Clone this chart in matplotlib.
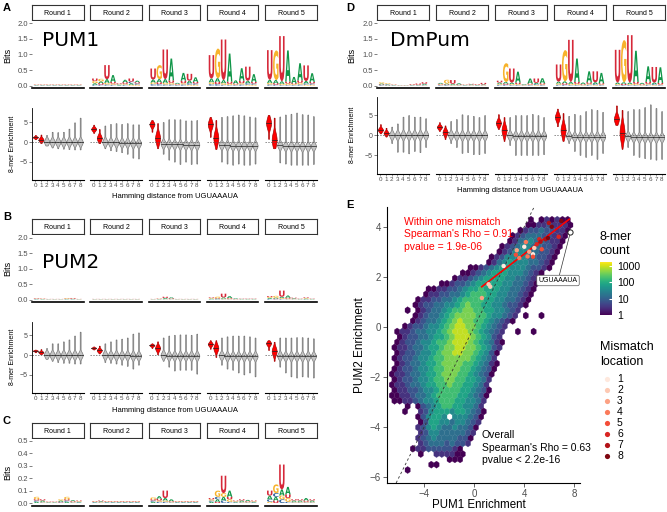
import numpy as np
import matplotlib
matplotlib.use('Agg')
import matplotlib.pyplot as plt
from matplotlib.textpath import TextPath
from matplotlib.patches import PathPatch
from matplotlib.font_manager import FontProperties
from matplotlib.transforms import Affine2D
from matplotlib.colors import LogNorm

plt.rcParams['font.family'] = ['Liberation Sans', 'DejaVu Sans']

W, H = 667, 512
ROUNDS = ['Round 1', 'Round 2', 'Round 3', 'Round 4', 'Round 5']
DIST = list(range(9))
BASES = 'ACGU'
BASE_COL = {'A': '#109648', 'C': '#255C99', 'G': '#F7B32B', 'U': '#D62839'}

# sequence logo heights in bits: per round, 8 positions of (A, C, G, U)
PUM1_LOGO = [
    [(.01, .01, .01, .01), (.01, .01, .01, .01), (.01, .01, .01, .01), (.01, .01, .01, .01),
     (.01, .01, .01, .01), (.01, .01, .01, .01), (.01, .01, .01, .01), (.01, .01, .01, .01)],
    [(.05, .03, .07, .08), (.06, .03, .08, .05), (.12, .04, .05, .45), (.22, .03, .04, .05),
     (.02, .02, .02, .02), (.08, .03, .03, .05), (.05, .05, .03, .10), (.05, .04, .03, .04)],
    [(.10, .05, .05, .35), (.10, .05, .45, .06), (.12, .04, .05, .95), (.70, .04, .05, .08),
     (.03, .02, .02, .02), (.25, .04, .04, .08), (.08, .05, .03, .22), (.15, .04, .03, .05)],
    [(.12, .05, .06, .75), (.12, .05, .95, .07), (.10, .03, .05, 1.30), (.90, .02, .04, .07),
     (.10, .02, .02, .03), (.40, .04, .04, .08), (.08, .05, .03, .45), (.25, .04, .03, .05)],
    [(.10, .04, .05, .95), (.10, .03, .95, .05), (.08, .02, .04, 1.45), (1.00, .02, .05, .06),
     (.20, .02, .03, .03), (.55, .04, .05, .08), (.08, .04, .03, .50), (.28, .04, .03, .05)],
]
PUM2_LOGO = [
    [(.01, .01, .01, .015), (.01, .005, .01, .01), (.005, .005, .005, .005), (.005, .005, .005, .005),
     (.005, .005, .005, .005), (.01, .01, .02, .01), (.01, .01, .01, .02), (.005, .005, .005, .005)],
    [(.005, .005, .005, .005), (.005, .005, .005, .005), (.005, .005, .005, .005), (.005, .005, .005, .005),
     (.005, .005, .005, .005), (.005, .005, .005, .005), (.005, .005, .005, .005), (.005, .005, .005, .005)],
    [(.005, .005, .005, .005), (.01, .005, .01, .01), (.03, .01, .01, .04), (.03, .01, .01, .02),
     (.005, .005, .005, .005), (.005, .005, .005, .005), (.005, .005, .005, .005), (.005, .005, .005, .005)],
    [(.02, .01, .02, .02), (.02, .01, .04, .02), (.04, .01, .02, .12), (.06, .01, .02, .02),
     (.02, .005, .005, .01), (.01, .005, .005, .01), (.01, .005, .005, .01), (.01, .005, .005, .01)],
    [(.03, .02, .03, .03), (.03, .01, .06, .02), (.04, .02, .03, .20), (.07, .01, .02, .03),
     (.02, .01, .01, .02), (.01, .005, .005, .01), (.02, .01, .02, .02), (.01, .005, .005, .01)],
]
CTRL_LOGO = [
    [(.01, .01, .02, .01), (.01, .005, .005, .01), (.003, .003, .003, .003), (.003, .003, .003, .003),
     (.01, .005, .01, .005), (.01, .01, .02, .01), (.008, .005, .005, .005), (.005, .005, .005, .005)],
    [(.004, .004, .004, .004), (.006, .004, .004, .006), (.004, .004, .004, .004), (.004, .004, .004, .004),
     (.004, .004, .004, .004), (.004, .004, .004, .004), (.004, .004, .004, .004), (.004, .004, .004, .004)],
    [(.01, .01, .015, .01), (.02, .01, .01, .015), (.02, .01, .01, .06), (.015, .005, .005, .005),
     (.004, .004, .004, .004), (.004, .004, .004, .004), (.004, .004, .004, .004), (.004, .004, .004, .004)],
    [(.01, .01, .01, .01), (.02, .02, .05, .01), (.03, .02, .03, .14), (.05, .01, .02, .02),
     (.005, .005, .005, .005), (.01, .005, .005, .01), (.01, .005, .005, .005), (.005, .005, .005, .005)],
    [(.03, .02, .01, .04), (.03, .03, .07, .02), (.05, .03, .03, .20), (.06, .01, .03, .03),
     (.01, .005, .005, .01), (.01, .005, .005, .01), (.02, .005, .005, .01), (.01, .005, .005, .01)],
]
DM_LOGO = [
    [(.03, .02, .04, .02), (.02, .02, .03, .01), (.01, .01, .01, .01), (.005, .005, .005, .005),
     (.005, .005, .005, .005), (.01, .01, .01, .02), (.01, .01, .01, .04), (.03, .02, .01, .05)],
    [(.03, .02, .02, .02), (.03, .02, .12, .02), (.03, .01, .02, .12), (.04, .01, .01, .02),
     (.01, .01, .01, .01), (.02, .01, .01, .02), (.01, .01, .01, .02), (.02, .01, .01, .05)],
    [(.04, .03, .03, .06), (.05, .03, .60, .04), (.05, .02, .03, .45), (.35, .02, .03, .05),
     (.02, .01, .01, .01), (.16, .02, .02, .03), (.04, .03, .02, .14), (.16, .02, .02, .04)],
    [(.06, .03, .04, .55), (.06, .03, 1.0, .05), (.06, .02, .04, 1.35), (.75, .02, .04, .06),
     (.05, .01, .02, .02), (.35, .03, .03, .05), (.06, .03, .02, .35), (.33, .02, .02, .04)],
    [(.05, .02, .03, 1.05), (.05, .02, 1.35, .04), (.05, .02, .03, 1.52), (1.0, .02, .04, .06),
     (.04, .01, .02, .02), (.50, .03, .03, .06), (.05, .03, .02, .50), (.50, .02, .02, .05)],
]

# 8-mer enrichment violins: low end, median, high end per round and hamming distance
PUM1_LO = [[0.7, -0.3, -0.9, -1.4, -1.6, -1.7, -1.8, -1.9, -1.9],
           [2.3, -0.3, -1.6, -2.1, -2.3, -2.6, -3.0, -4.0, -4.2],
           [2.6, -1.6, -3.0, -4.5, -5.0, -5.6, -5.0, -5.6, -5.5],
           [1.3, -1.8, -5.0, -5.5, -5.8, -5.5, -5.8, -5.8, -5.5],
           [0.8, -1.6, -5.2, -5.5, -5.8, -5.8, -5.8, -5.8, -5.6]]
PUM1_MED = [[1.2, 0.6, 0.1, 0.0, 0.0, 0.0, 0.0, 0.0, 0.0],
            [3.3, 1.0, 0.0, -0.1, -0.1, -0.2, -0.2, -0.3, -0.3],
            [4.5, 1.0, -0.4, -0.5, -0.6, -0.6, -0.7, -0.7, -0.7],
            [4.5, 1.0, -0.7, -0.8, -0.9, -0.9, -0.9, -0.9, -0.9],
            [4.8, 0.6, -0.8, -1.0, -1.0, -1.0, -1.1, -1.1, -1.0]]
PUM1_HI = [[1.8, 1.9, 1.8, 2.6, 2.5, 2.6, 3.4, 5.0, 6.2],
           [4.4, 3.3, 4.2, 4.6, 4.8, 4.6, 4.8, 4.5, 4.5],
           [5.6, 4.8, 5.1, 5.8, 5.8, 5.8, 5.5, 5.5, 5.6],
           [6.4, 5.6, 6.4, 6.6, 6.8, 7.0, 6.8, 6.5, 6.3],
           [6.9, 6.2, 6.5, 7.0, 7.2, 7.5, 7.1, 7.0, 6.6]]

PUM2_LO = [[0.7, 0.2, -1.0, -1.5, -1.8, -2.0, -2.0, -2.2, -2.2],
           [1.4, 0.4, -1.8, -2.0, -2.2, -2.5, -2.8, -3.5, -2.5],
           [1.8, 0.2, -1.5, -3.0, -4.0, -3.8, -3.8, -3.8, -4.8],
           [1.6, -0.5, -2.5, -3.5, -3.8, -4.5, -5.0, -4.5, -5.5],
           [1.3, -1.5, -3.0, -4.5, -5.5, -5.8, -5.5, -5.6, -5.8]]
PUM2_MED = [[1.1, 0.7, 0.1, 0.0, 0.0, 0.0, 0.0, 0.0, 0.0],
            [1.8, 1.2, 0.0, -0.1, -0.1, -0.1, -0.1, -0.2, -0.2],
            [2.5, 1.8, 0.0, -0.2, -0.2, -0.2, -0.2, -0.2, -0.2],
            [2.8, 1.8, -0.1, -0.3, -0.3, -0.3, -0.3, -0.3, -0.3],
            [3.0, 1.0, -0.2, -0.3, -0.3, -0.3, -0.3, -0.3, -0.3]]
PUM2_HI = [[1.4, 1.5, 1.8, 3.0, 3.0, 3.5, 4.0, 5.0, 6.0],
           [2.2, 2.4, 3.0, 3.5, 4.0, 4.2, 4.5, 5.5, 5.8],
           [3.0, 3.5, 4.5, 5.0, 5.2, 5.3, 5.3, 5.2, 5.5],
           [3.8, 3.8, 4.5, 4.8, 5.0, 5.0, 5.0, 4.8, 4.5],
           [3.8, 3.4, 4.5, 4.5, 4.5, 4.6, 4.6, 4.5, 4.3]]

DM_LO = [[0.4, -0.4, -2.0, -4.2, -4.2, -4.6, -4.0, -4.3, -3.0],
         [1.0, -1.0, -2.0, -3.0, -4.5, -4.3, -4.8, -4.8, -4.5],
         [1.5, -1.5, -2.5, -5.0, -5.0, -5.0, -5.0, -5.0, -4.8],
         [2.2, -1.5, -2.0, -4.0, -5.0, -5.5, -5.0, -6.0, -4.5],
         [2.5, -3.5, -3.0, -5.0, -5.5, -5.8, -6.0, -6.2, -6.0]]
DM_MED = [[1.3, 0.5, 0.0, 0.0, 0.0, 0.0, 0.0, 0.0, 0.0],
          [2.0, 0.7, 0.0, -0.1, -0.1, -0.1, -0.1, -0.1, -0.1],
          [3.0, 1.2, -0.1, -0.2, -0.2, -0.2, -0.2, -0.2, -0.2],
          [4.5, 1.2, -0.2, -0.4, -0.4, -0.4, -0.4, -0.4, -0.4],
          [4.0, 0.6, -0.3, -0.5, -0.6, -0.6, -0.6, -0.6, -0.6]]
DM_HI = [[2.7, 1.8, 2.1, 2.9, 4.6, 5.0, 4.6, 4.6, 4.2],
         [3.2, 2.4, 3.5, 4.0, 5.2, 5.0, 4.8, 4.5, 5.0],
         [5.2, 4.5, 4.5, 5.0, 5.0, 5.0, 5.3, 5.0, 4.5],
         [6.6, 5.5, 4.8, 5.3, 5.0, 6.0, 6.5, 6.3, 5.8],
         [7.4, 6.3, 6.0, 6.5, 6.5, 7.0, 7.7, 6.8, 6.0]]

# PUM1 vs PUM2 hexbin: (half-row, first column, count level per hex)
LEVEL_COUNT = {'1': 1, '2': 3, '3': 7, '4': 15, '5': 35, '6': 80, '7': 180, '8': 400, '9': 900}
HEX_ROWS = [
    (47, 26, "1 121211"),
    (46, 26, "112232221"),
    (45, 24, "1233433221"),
    (44, 23, "12344433221"),
    (43, 22, "12445443221"),
    (42, 21, "123455443321"),
    (41, 20, "123555443321"),
    (40, 19, "1235555443321"),
    (39, 18, "1245655544321"),
    (38, 15, "1123456655543321"),
    (37, 13, "1123456665554321"),
    (36, 12, "12234566665544321"),
    (35, 9, "1123345666665544321"),
    (34, 7, "112233456676665544321"),
    (33, 6, "122334456777665544321"),
    (32, 5, "1223344567777665544321"),
    (31, 4, "1233445567877665543321"),
    (30, 3, "1 12344567788776655432"),
    (29, 4, "12344567888877655432 1  1"),
    (28, 4, "12344567898877654321"),
    (27, 2, "12334556789988765432"),
    (26, 1, "122344556789998765432  1  1"),
    (25, 1, "12334456678999876532"),
    (24, 1, "123345567789998765421"),
    (23, 0, "122344566788998876532"),
    (22, 1, "12334556788998876531"),
    (21, 0, "12334556778888876542"),
    (20, 1, "12344566788887765421"),
    (19, 0, "12334556778887765431"),
    (18, 0, "12234456678887765431"),
    (17, 0, "1233455677887766542"),
    (16, 0, "1223445667787766542"),
    (15, 0, "1223345567777665431"),
    (14, 0, "1122344567777665431"),
    (13, 0, "112234556777665542"),
    (12, 3, "1 1345677665542"),
    (11, 2, "1  2356665665431"),
    (10, 5, "135665 555431"),
    (9, 5, "136655455432"),
    (8, 5, "235654454431"),
    (7, 5, "23554444432"),
    (6, 5, "23454444331"),
    (5, 5, "2344434332"),
    (4, 4, "1223333321"),
    (3, 5, "1  222211"),
    (2, 11, "111"),
    (1, 7, "11"),
    (0, 3, "1"),
]
HEX_X0, HEX_Y0, HEX_W, HEX_H = -6.59, -5.73, 0.42, 0.426

# 8-mers within one mismatch of UGUAAAUA
MM_X = [2.35, 4.0, 4.7, 1.28, 1.15, 4.8, 0.61, 4.4, 3.4, 4.27, 4.13, 3.6,
        3.33, 5.4, 4.7, 5.0, 5.2, 6.75, 5.3, 5.97, 5.7, 6.96, 5.9, 6.2]
MM_Y = [2.43, 3.2, 2.9, 1.6, 1.7, 3.15, 1.15, 3.0, 3.06, 2.81, 3.39, 2.75,
        2.88, 3.1, 2.8, 3.3, 3.5, 3.6, 3.4, 4.15, 3.5, 4.23, 3.55, 4.0]
MM_LOC = [1, 1, 1, 2, 2, 2, 3, 3, 3, 4, 4, 4, 5, 5, 5, 6, 6, 6, 7, 7, 7, 8, 8, 8]
TOP_X, TOP_Y = 7.65, 3.8
FIT_X = [0.6, 7.6]
FIT_Y = [1.6, 4.3]

GRAY = '#4D4D4D'
fig = plt.figure(figsize=(6.67, 5.12), dpi=100)


def add_ax(x0, y0, x1, y1):
    return fig.add_axes([x0 / W, 1 - y1 / H, (x1 - x0) / W, (y1 - y0) / H])


def ftext(x, y, s, **kw):
    fig.text(x / W, 1 - y / H, s, **kw)


FP = FontProperties(family='DejaVu Sans', weight='bold')
GLYPHS = {b: TextPath((0, 0), b, size=1, prop=FP) for b in BASES}


def letter(ax, b, x, y, w, h):
    p = GLYPHS[b]
    e = p.get_extents()
    t = Affine2D().translate(-e.x0, -e.y0).scale(w / e.width, h / e.height).translate(x - w / 2, y)
    ax.add_patch(PathPatch(t.transform_path(p), fc=BASE_COL[b], ec='none', lw=0))


def strip(x0, x1, y0, y1, label):
    ax = add_ax(x0, y0, x1, y1)
    ax.set_xticks([])
    ax.set_yticks([])
    for s in ax.spines.values():
        s.set_color('#333333')
        s.set_linewidth(0.8)
    ax.text(0.5, 0.45, label, ha='center', va='center', fontsize=5, transform=ax.transAxes)


def logo_panel(xs, wd, sy, ly, ylim, yticks, data):
    for k in range(5):
        x0 = xs[k]
        strip(x0, x0 + wd, sy[0], sy[1], ROUNDS[k])
        ax = add_ax(x0, ly[0], x0 + wd, ly[1])
        for p, hts in enumerate(data[k]):
            base = 0.0
            for b in np.argsort(hts):
                letter(ax, BASES[b], p + 1, base, 0.9, hts[b])
                base += hts[b]
        ax.set_xlim(0.25, 8.75)
        ax.set_ylim(*ylim)
        ax.set_xticks([])
        for s in ['top', 'right', 'left']:
            ax.spines[s].set_visible(False)
        ax.spines['bottom'].set_linewidth(1.2)
        if k == 0:
            ax.set_yticks(yticks)
            ax.set_yticklabels(['%.1f' % v for v in yticks])
            ax.tick_params(axis='y', labelsize=5.5, colors=GRAY, length=2, width=0.5, pad=1)
        else:
            ax.set_yticks([])


def violin(ax, x, lo, md, hi, red):
    ys = np.linspace(lo, hi, 150)
    if red:
        s = (hi - lo) / 4.5
        half = 0.44 * np.exp(-0.5 * ((ys - md) / s) ** 2)
    else:
        half = 0.46 * np.exp(-0.5 * ((ys - md) / 0.75) ** 2)
    half = np.maximum(half, 0.08)
    half[[0, -1]] = 0.0
    fc, ec = ('#FF0000', '#A00000') if red else ('#C4C4C4', '#707070')
    ax.fill_betweenx(ys, x - half, x + half, fc=fc, ec=ec, lw=0.45)
    wm = np.interp(md, ys, half)
    ax.plot([x - wm, x + wm], [md, md], color='#222222', lw=0.5)


def violin_panel(xs, wd, vy, ylim, lo, med, hi):
    for k in range(5):
        x0 = xs[k]
        ax = add_ax(x0, vy[0], x0 + wd, vy[1])
        ax.axhline(0, ls=(0, (2, 2)), color='#555555', lw=0.5)
        for d in DIST:
            violin(ax, d, lo[k][d], med[k][d], hi[k][d], d < 2)
        ax.set_xlim(-0.6, 8.6)
        ax.set_ylim(*ylim)
        ax.set_xticks(DIST)
        ax.set_xticklabels([str(d) for d in DIST])
        ax.tick_params(axis='x', labelsize=4.5, colors=GRAY, length=1.5, width=0.4, pad=1)
        for s in ['top', 'right']:
            ax.spines[s].set_visible(False)
        ax.spines['bottom'].set_linewidth(0.8)
        if k == 0:
            ax.spines['left'].set_linewidth(0.6)
            ax.set_yticks([-5, 0, 5])
            ax.tick_params(axis='y', labelsize=5, colors=GRAY, length=2, width=0.5, pad=1)
        else:
            ax.spines['left'].set_visible(False)
            ax.set_yticks([])


LEFT_X = [32 + k * 58.3 for k in range(5)]
RIGHT_X = [377 + k * 59 for k in range(5)]

# A: PUM1
logo_panel(LEFT_X, 51.5, (5, 20), (20.5, 88), (-0.074, 2.09), [0, 0.5, 1, 1.5, 2], PUM1_LOGO)
violin_panel(LEFT_X, 51.5, (108, 180), (-9.64, 8.63), PUM1_LO, PUM1_MED, PUM1_HI)
# B: PUM2
logo_panel(LEFT_X, 51.5, (219, 234), (234.5, 302), (-0.08, 2.11), [0, 0.5, 1, 1.5, 2], PUM2_LOGO)
violin_panel(LEFT_X, 51.5, (322, 393), (-9.74, 8.46), PUM2_LO, PUM2_MED, PUM2_HI)
# C
logo_panel(LEFT_X, 51.5, (423, 438), (438.5, 505.5), (-0.02, 0.52), [0, 0.1, 0.2, 0.3, 0.4, 0.5], CTRL_LOGO)
# D: DmPum
logo_panel(RIGHT_X, 52, (5, 20), (20.5, 88), (-0.074, 2.09), [0, 0.5, 1, 1.5, 2], DM_LOGO)
violin_panel(RIGHT_X, 52, (97, 174), (-9.75, 9.5), DM_LO, DM_MED, DM_HI)

for x, y in [(8, 55), (8, 268), (8, 472), (352, 55)]:
    ftext(x, y, 'Bits', rotation=90, ha='center', va='center', fontsize=6.5)
for x, y in [(13, 144), (13, 357), (352, 135)]:
    ftext(x, y, '8-mer Enrichment', rotation=90, ha='center', va='center', fontsize=5)
for x, y in [(175, 196), (175, 411), (520, 190)]:
    ftext(x, y, 'Hamming distance from UGUAAAUA', ha='center', va='center', fontsize=5.5)
for x, y, s in [(42, 40, 'PUM1'), (42, 262, 'PUM2'), (390, 40, 'DmPum')]:
    ftext(x, y, s, ha='left', va='center', fontsize=14.5, family='DejaVu Sans')
for x, y, s in [(3, 3, 'A'), (3, 212, 'B'), (3, 416, 'C'), (346, 3, 'D'), (346, 200, 'E')]:
    ftext(x, y, s, ha='left', va='top', fontsize=8, weight='bold')

# E: hexbin of PUM1 vs PUM2 enrichment
ax = add_ax(387, 207, 580, 483)
hx, hy, hc = [], [], []
for r, start, row in HEX_ROWS:
    for k, ch in enumerate(row):
        if ch == ' ':
            continue
        hx.append(HEX_X0 + (start + k + 0.5 * (r % 2)) * HEX_W)
        hy.append(HEX_Y0 + r * HEX_H / 2)
        hc.append(LEVEL_COUNT[ch])
hb = ax.hexbin(hx, hy, C=hc, gridsize=(34, 24),
               extent=(HEX_X0, HEX_X0 + 34 * HEX_W, HEX_Y0, HEX_Y0 + 24 * HEX_H),
               reduce_C_function=np.sum, cmap='viridis', norm=LogNorm(1, 1800),
               linewidths=0.2, edgecolors='face')
ax.axline((0, 0), slope=1, ls=(0, (3, 3)), color='#333333', lw=0.6)
ax.plot(FIT_X, FIT_Y, color='#FF0000', lw=1.2, zorder=3)
reds = plt.cm.Reds(np.linspace(0.08, 0.95, 8))
ax.scatter(MM_X, MM_Y, c=[reds[l - 1] for l in MM_LOC], s=10, lw=0, zorder=4)
ax.scatter([TOP_X], [TOP_Y], s=14, fc='white', ec='#222222', lw=0.7, zorder=5)
ax.annotate('UGUAAAUA', xy=(TOP_X, TOP_Y - 0.1), xytext=(6.7, 1.85), fontsize=5,
            ha='center', va='center',
            bbox=dict(boxstyle='round,pad=0.25', fc='white', ec='#555555', lw=0.5),
            arrowprops=dict(arrowstyle='-', color='#333333', lw=0.5, shrinkA=0, shrinkB=0))
ax.text(-5.6, 4.4, "Within one mismatch\nSpearman's Rho = 0.91\npvalue = 1.9e-06",
        color='#FF0000', fontsize=7.5, va='top', ha='left', linespacing=1.3)
ax.text(0.6, -4.15, "Overall\nSpearman's Rho = 0.63\npvalue < 2.2e-16",
        color='black', fontsize=7.5, va='top', ha='left', linespacing=1.3)
ax.set_xlim(-6.98, 8.46)
ax.set_ylim(-6.25, 4.79)
ax.set_xticks([-4, 0, 4, 8])
ax.set_yticks([-6, -4, -2, 0, 2, 4])
ax.tick_params(labelsize=7, colors=GRAY, length=3, width=0.6, pad=1.5)
for s in ['top', 'right']:
    ax.spines[s].set_visible(False)
for s in ['left', 'bottom']:
    ax.spines[s].set_linewidth(0.8)
ftext(479, 505.5, 'PUM1 Enrichment', ha='center', va='center', fontsize=8.3)
ftext(360, 345, 'PUM2 Enrichment', ha='center', va='center', fontsize=8.5, rotation=90)

cax = add_ax(600, 262, 612, 315)
cb = fig.colorbar(hb, cax=cax, ticks=[1, 10, 100, 1000])
cb.ax.set_yticklabels(['1', '10', '100', '1000'])
cb.outline.set_visible(False)
cax.minorticks_off()
cax.tick_params(labelsize=7.5, length=2, color='white', direction='in', pad=4)
ftext(600, 237, '8-mer', ha='left', va='center', fontsize=9)
ftext(600, 251, 'count', ha='left', va='center', fontsize=9)

ftext(600, 347, 'Mismatch', ha='left', va='center', fontsize=9)
ftext(600, 362, 'location', ha='left', va='center', fontsize=9)
lax = add_ax(595, 372, 667, 462)
lax.set_xlim(595, 667)
lax.set_ylim(462, 372)
lax.axis('off')
for k in range(8):
    lax.scatter([607], [379.3 + k * 10.9], color=reds[k], s=14, lw=0)
    lax.text(617, 379.3 + k * 10.9, str(k + 1), fontsize=7.5, va='center', ha='left')

fig.savefig('out.png', dpi=100)
